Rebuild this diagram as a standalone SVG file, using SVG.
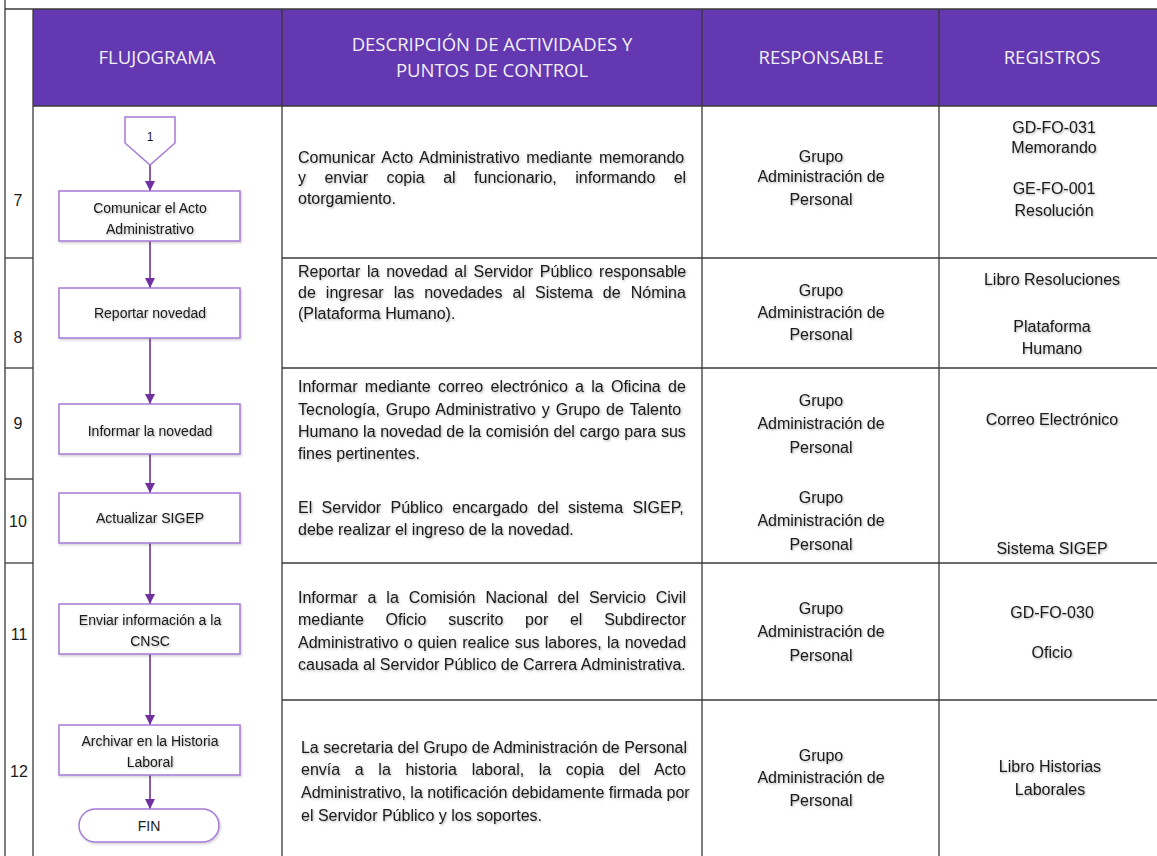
<svg xmlns="http://www.w3.org/2000/svg" width="1157" height="856" viewBox="0 0 1157 856">
<defs>
<style>
.grid{stroke:#3a3a3a;stroke-width:1.3;fill:none}
.hdr{font-family:"Open Sans","Liberation Sans",sans-serif;font-size:18.5px;fill:#f2f0f7;text-anchor:middle}
.t{font-family:"Liberation Sans",Arial,sans-serif;font-size:16px;fill:#1a1a1a}
.c{text-anchor:middle}
.num{font-family:"Liberation Sans",Arial,sans-serif;font-size:16px;fill:#1a1a1a;text-anchor:middle}
.bx{fill:#fff;stroke:#a57ad6;stroke-width:1.5}
.bt{font-family:"Liberation Sans",Arial,sans-serif;font-size:14px;fill:#1a1a1a;text-anchor:middle}
.cn{stroke:#7030a0;stroke-width:1.6;fill:none}
.sh{filter:url(#ts)}
</style>
<filter id="ts" x="-5%" y="-20%" width="110%" height="150%">
<feDropShadow dx="1" dy="1.2" stdDeviation="0.9" flood-color="#000" flood-opacity="0.32"/>
</filter>
<filter id="bs" x="-10%" y="-20%" width="120%" height="150%">
<feDropShadow dx="1" dy="1.5" stdDeviation="1.2" flood-color="#000" flood-opacity="0.18"/>
</filter>
<marker id="ah" markerWidth="10" markerHeight="10" refX="10" refY="5" orient="auto" markerUnits="userSpaceOnUse">
<path d="M0,0 L10,5 L0,10 Z" fill="#7030a0"/>
</marker>
</defs>
<rect width="1157" height="856" fill="#fff"/>

<g id="header">
<rect x="33" y="9" width="1124" height="97" fill="#6338b0"/>
<text class="hdr" x="157" y="64">FLUJOGRAMA</text>
<text class="hdr" x="492" y="51">DESCRIPCIÓN DE ACTIVIDADES Y</text>
<text class="hdr" x="492" y="77">PUNTOS DE CONTROL</text>
<text class="hdr" x="821" y="64">RESPONSABLE</text>
<text class="hdr" x="1052" y="64">REGISTROS</text>
</g>

<g id="grid" class="grid">
<line x1="5" y1="0" x2="5" y2="856"/>
<line x1="5" y1="9" x2="1157" y2="9"/>
<line x1="33" y1="9" x2="33" y2="856"/>
<line x1="282" y1="9" x2="282" y2="856"/>
<line x1="702" y1="9" x2="702" y2="856"/>
<line x1="939" y1="9" x2="939" y2="856"/>
<line x1="33" y1="106" x2="1157" y2="106"/>
<line x1="5" y1="258" x2="33" y2="258"/>
<line x1="5" y1="368" x2="33" y2="368"/>
<line x1="5" y1="479" x2="33" y2="479"/>
<line x1="5" y1="563" x2="33" y2="563"/>
<line x1="282" y1="258" x2="1157" y2="258"/>
<line x1="282" y1="368" x2="1157" y2="368"/>
<line x1="282" y1="563" x2="1157" y2="563"/>
<line x1="282" y1="700" x2="1157" y2="700"/>
</g>

<g id="numbers">
<text class="num" x="18" y="206">7</text>
<text class="num" x="18" y="343">8</text>
<text class="num" x="18" y="429">9</text>
<text class="num" x="18" y="527">10</text>
<text class="num" x="19" y="640">11</text>
<text class="num" x="19" y="777">12</text>
</g>

<g id="connectors">
<line class="cn" x1="150" y1="165" x2="150" y2="191" marker-end="url(#ah)"/>
<line class="cn" x1="150" y1="241" x2="150" y2="288" marker-end="url(#ah)"/>
<line class="cn" x1="150" y1="338" x2="150" y2="404" marker-end="url(#ah)"/>
<line class="cn" x1="150" y1="454" x2="150" y2="493" marker-end="url(#ah)"/>
<line class="cn" x1="150" y1="543" x2="150" y2="604" marker-end="url(#ah)"/>
<line class="cn" x1="150" y1="654" x2="150" y2="725" marker-end="url(#ah)"/>
<line class="cn" x1="150" y1="775" x2="150" y2="809" marker-end="url(#ah)"/>
</g>

<g id="n-connector1">
<path class="bx" d="M125,117 H175 V143 L150,165 L125,143 Z"/>
<text class="bt" x="150" y="141" style="font-size:12px">1</text>
</g>
<g id="n-comunicar">
<rect class="bx" x="59" y="191" width="181" height="50" filter="url(#bs)"/>
<text class="bt sh" x="150" y="213">Comunicar el Acto</text>
<text class="bt sh" x="150" y="234">Administrativo</text>
</g>
<g id="n-reportar">
<rect class="bx" x="59" y="288" width="181" height="50" filter="url(#bs)"/>
<text class="bt sh" x="150" y="318">Reportar novedad</text>
</g>
<g id="n-informar">
<rect class="bx" x="59" y="404" width="181" height="50" filter="url(#bs)"/>
<text class="bt sh" x="150" y="436">Informar la novedad</text>
</g>
<g id="n-sigep">
<rect class="bx" x="59" y="493" width="181" height="50" filter="url(#bs)"/>
<text class="bt sh" x="150" y="523">Actualizar SIGEP</text>
</g>
<g id="n-cnsc">
<rect class="bx" x="59" y="604" width="181" height="50" filter="url(#bs)"/>
<text class="bt sh" x="150" y="625">Enviar información a la</text>
<text class="bt sh" x="150" y="646">CNSC</text>
</g>
<g id="n-archivar">
<rect class="bx" x="59" y="725" width="181" height="50" filter="url(#bs)"/>
<text class="bt sh" x="150" y="746">Archivar en la Historia</text>
<text class="bt sh" x="150" y="767">Laboral</text>
</g>
<g id="n-fin">
<rect class="bx" x="79" y="809" width="140" height="33" rx="16.5" ry="16.5" filter="url(#bs)"/>
<text class="bt" x="149" y="831">FIN</text>
</g>

<g id="descripcion" class="t sh">
<text x="298" y="163" style="word-spacing:2.3px">Comunicar Acto Administrativo mediante memorando</text>
<text x="298" y="183" style="word-spacing:14px">y enviar copia al funcionario, informando el</text>
<text x="298" y="204">otorgamiento.</text>

<text x="298" y="277" style="word-spacing:2.3px">Reportar la novedad al Servidor Público responsable</text>
<text x="298" y="298" style="word-spacing:5.6px">de ingresar las novedades al Sistema de Nómina</text>
<text x="298" y="319">(Plataforma Humano).</text>

<text x="298" y="392" style="word-spacing:2.8px">Informar mediante correo electrónico a la Oficina de</text>
<text x="298" y="415" style="word-spacing:1.5px">Tecnología, Grupo Administrativo y Grupo de Talento</text>
<text x="298" y="437" style="word-spacing:0.2px">Humano la novedad de la comisión del cargo para sus</text>
<text x="298" y="459">fines pertinentes.</text>

<text x="298" y="513" style="word-spacing:4.9px">El Servidor Público encargado del sistema SIGEP,</text>
<text x="298" y="535">debe realizar el ingreso de la novedad.</text>

<text x="298" y="603" style="word-spacing:5.5px">Informar a la Comisión Nacional del Servicio Civil</text>
<text x="298" y="625" style="word-spacing:17.3px">mediante Oficio suscrito por el Subdirector</text>
<text x="298" y="648" style="word-spacing:0.8px">Administrativo o quien realice sus labores, la novedad</text>
<text x="298" y="670">causada al Servidor Público de Carrera Administrativa.</text>

<text x="301" y="753" textLength="386" lengthAdjust="spacingAndGlyphs">La secretaria del Grupo de Administración de Personal</text>
<text x="301" y="775" style="word-spacing:10.2px">envía a la historia laboral, la copia del Acto</text>
<text x="301" y="798">Administrativo, la notificación debidamente firmada por</text>
<text x="301" y="821">el Servidor Público y los soportes.</text>
</g>

<g id="responsable" class="t c sh">
<text x="821" y="162">Grupo</text>
<text x="821" y="182">Administración de</text>
<text x="821" y="205">Personal</text>
<text x="821" y="296">Grupo</text>
<text x="821" y="318">Administración de</text>
<text x="821" y="340">Personal</text>
<text x="821" y="406">Grupo</text>
<text x="821" y="429">Administración de</text>
<text x="821" y="453">Personal</text>
<text x="821" y="503">Grupo</text>
<text x="821" y="526">Administración de</text>
<text x="821" y="550">Personal</text>
<text x="821" y="614">Grupo</text>
<text x="821" y="637">Administración de</text>
<text x="821" y="661">Personal</text>
<text x="821" y="761">Grupo</text>
<text x="821" y="783">Administración de</text>
<text x="821" y="806">Personal</text>
</g>

<g id="registros" class="t c sh">
<text x="1054" y="133">GD-FO-031</text>
<text x="1054" y="153">Memorando</text>
<text x="1054" y="194">GE-FO-001</text>
<text x="1054" y="216">Resolución</text>
<text x="1052" y="285">Libro Resoluciones</text>
<text x="1052" y="332">Plataforma</text>
<text x="1052" y="354">Humano</text>
<text x="1052" y="425">Correo Electrónico</text>
<text x="1052" y="554">Sistema SIGEP</text>
<text x="1052" y="618">GD-FO-030</text>
<text x="1052" y="658">Oficio</text>
<text x="1050" y="772">Libro Historias</text>
<text x="1050" y="795">Laborales</text>
</g>
</svg>
